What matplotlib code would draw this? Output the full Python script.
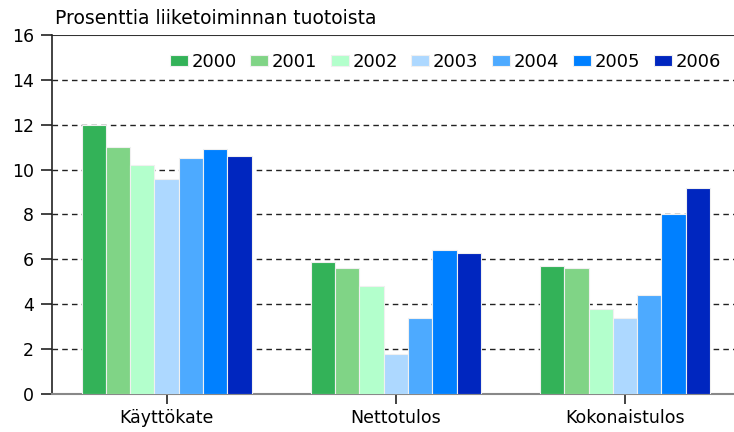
import numpy as np
import matplotlib
matplotlib.use('Agg')
import matplotlib.pyplot as plt

# Data
categories = ['Käyttökate', 'Nettotulos', 'Kokonaistulos']
years = ['2000', '2001', '2002', '2003', '2004', '2005', '2006']
values = {
    '2000': [12.0, 5.9, 5.7],
    '2001': [11.0, 5.6, 5.6],
    '2002': [10.2, 4.8, 3.8],
    '2003': [9.6, 1.8, 3.4],
    '2004': [10.5, 3.4, 4.4],
    '2005': [10.9, 6.4, 8.0],
    '2006': [10.6, 6.3, 9.2],
}
colors = ['#33b258', '#80d486', '#b3ffcc', '#add8ff', '#4daaff', '#0080ff', '#0026bf']
y_ticks = [0, 2, 4, 6, 8, 10, 12, 14, 16]

plt.rcParams['font.family'] = ['DejaVu Sans']
fs = 12.5

fig = plt.figure(figsize=(7.34, 4.32), dpi=100)
ax = fig.add_axes([0.0708, 0.088, 0.93, 0.831])

x = np.arange(len(categories))
bar_w = 0.106
for i, year in enumerate(years):
    offset = (i - 3) * bar_w
    ax.bar(x + offset, values[year], width=bar_w, color=colors[i],
           edgecolor='#f0f0f0', linewidth=0.8, label=year, zorder=3)

ax.set_ylim(0, 16)
ax.set_xlim(-0.5, 2.478)
ax.set_yticks(y_ticks)
ax.set_yticklabels([str(t) for t in y_ticks], fontsize=fs)
ax.set_xticks(x)
ax.set_xticklabels(categories, fontsize=fs)

# dashed horizontal grid, solid line at the top
for t in y_ticks[1:-1]:
    ax.axhline(t, color='#222222', linestyle=(0, (4, 3)), linewidth=1.0, zorder=1)
ax.axhline(16, color='#333333', linewidth=1.5, zorder=1)

ax.spines['right'].set_visible(False)
ax.spines['top'].set_visible(False)
ax.spines['left'].set_color('#222222')
ax.spines['left'].set_linewidth(1.2)
ax.spines['bottom'].set_color('#888888')
ax.spines['bottom'].set_linewidth(1.5)
ax.tick_params(axis='y', direction='out', length=8, width=1.2, color='#222222', pad=5)
ax.tick_params(axis='x', direction='out', length=7, width=1.2, color='#222222', pad=4)

fig.text(0.075, 0.958, 'Prosenttia liiketoiminnan tuotoista', fontsize=13.5, va='center', ha='left')

ax.legend(loc='upper right', ncol=7, frameon=False, fontsize=13,
          handlelength=1.0, handleheight=0.5, handletextpad=0.2,
          columnspacing=0.75, borderaxespad=0.3, bbox_to_anchor=(0.998, 0.985))

fig.savefig('out.png', dpi=100)
